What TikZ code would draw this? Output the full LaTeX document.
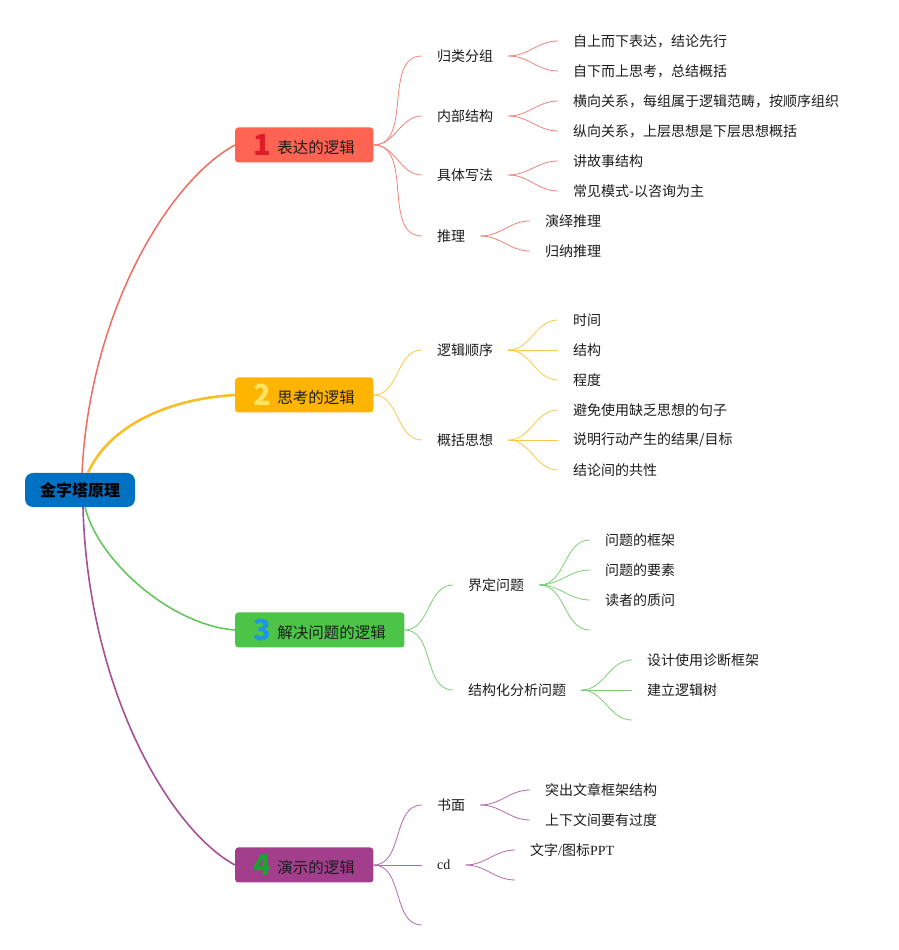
\documentclass[tikz,border=0pt]{standalone}
\usepackage{fontspec}
\setmainfont{Noto Sans CJK SC}
\newfontfamily\lser{Liberation Serif}
\usepackage{xcolor}
\usepackage{tikz}

\definecolor{rootblue}{RGB}{0,112,192}
\definecolor{redbox}{RGB}{255,99,82}
\definecolor{redline}{RGB}{238,108,96}
\definecolor{rednum}{RGB}{222,28,40}
\definecolor{orgbox}{RGB}{255,180,0}
\definecolor{orgline}{RGB}{248,190,40}
\definecolor{orgnum}{RGB}{255,228,100}
\definecolor{grnbox}{RGB}{76,196,72}
\definecolor{grnline}{RGB}{100,198,92}
\definecolor{grnnum}{RGB}{30,150,225}
\definecolor{purbox}{RGB}{162,62,140}
\definecolor{purline}{RGB}{166,80,152}
\definecolor{purnum}{RGB}{30,160,50}
\definecolor{txt}{RGB}{28,28,28}

\newcommand{\topicnum}[2]{\raisebox{-2pt}{\color{#1}\fontsize{29}{29}\selectfont\bfseries #2}\hspace{6pt}}

\begin{document}
\begin{tikzpicture}[x=1pt,y=1pt,
    topic/.style={rounded corners=3pt,inner xsep=18.5pt,inner ysep=0pt,minimum height=35pt,anchor=west,text=txt,font=\fontsize{15.5}{18}\selectfont},
    sub/.style={inner xsep=15pt,inner ysep=2pt,anchor=west,text=txt,font=\fontsize{14}{16}\selectfont},
    l1/.style={draw=redline!85,line width=0.8pt},
    l2/.style={draw=orgline!85,line width=0.8pt},
    l3/.style={draw=grnline!85,line width=0.8pt},
    l4/.style={draw=purline!85,line width=0.8pt}]
            \useasboundingbox (0,0) rectangle (899,950);
            % centre and the four topics
            \node [fill=rootblue,rounded corners=8pt,minimum width=110pt,minimum height=34pt,font=\fontsize{16}{18}\selectfont\bfseries] (root) at (80,460) {金字塔原理};
            \node [topic,fill=redbox] (b1) at (235,805) {\topicnum{rednum}{1}表达的逻辑};
            \node [topic,fill=orgbox] (b2) at (235,555) {\topicnum{orgnum}{2}思考的逻辑};
            \node [topic,fill=grnbox] (b3) at (235,320) {\topicnum{grnnum}{3}解决问题的逻辑};
            \node [topic,fill=purbox] (b4) at (235,85) {\topicnum{purnum}{4}演示的逻辑};
            \draw [redline,line width=1.5pt] ([xshift=2pt]root.north) .. controls +(8,163) and +(-65,-35) .. (b1.west);
            \draw [orgline,line width=2.6pt] ([xshift=8pt]root.north) .. controls +(20,45) and +(-70,-4) .. (b2.west);
            \draw [grnline,line width=1.6pt] ([xshift=5pt]root.south) .. controls +(13,-53) and +(-65,5) .. (b3.west);
            \draw [purline,line width=1.6pt] ([xshift=3pt]root.south) .. controls +(5,-183) and +(-65,35) .. (b4.west);

            % 1
            \node [sub] (g1) at (422,894) {归类分组};
            \node [sub] (g2) at (422,834) {内部结构};
            \node [sub] (g3) at (422,775) {具体写法};
            \node [sub] (g4) at (422,714) {推理};
            \node [sub] (g1a) at (558,909) {自上而下表达，结论先行};
            \node [sub] (g1b) at (558,879) {自下而上思考，总结概括};
            \node [sub] (g2a) at (558,849) {横向关系，每组属于逻辑范畴，按顺序组织};
            \node [sub] (g2b) at (558,819) {纵向关系，上层思想是下层思想概括};
            \node [sub] (g3a) at (558,789) {讲故事结构};
            \node [sub] (g3b) at (558,759) {常见模式-以咨询为主};
            \node [sub] (g4a) at (530,729) {演绎推理};
            \node [sub] (g4b) at (530,699) {归纳推理};
            \draw [l1] (b1.east) to[out=0,in=180] (g1.west);
            \draw [l1] (b1.east) to[out=0,in=180] (g2.west);
            \draw [l1] (b1.east) to[out=0,in=180] (g3.west);
            \draw [l1] (b1.east) to[out=0,in=180] (g4.west);
            \draw [l1] (g1.east) to[out=0,in=180] (g1a.west);
            \draw [l1] (g1.east) to[out=0,in=180] (g1b.west);
            \draw [l1] (g2.east) to[out=0,in=180] (g2a.west);
            \draw [l1] (g2.east) to[out=0,in=180] (g2b.west);
            \draw [l1] (g3.east) to[out=0,in=180] (g3a.west);
            \draw [l1] (g3.east) to[out=0,in=180] (g3b.west);
            \draw [l1] (g4.east) to[out=0,in=180] (g4a.west);
            \draw [l1] (g4.east) to[out=0,in=180] (g4b.west);

            % 2
            \node [sub] (s1) at (422,600) {逻辑顺序};
            \node [sub] (s2) at (422,510) {概括思想};
            \node [sub] (s1a) at (558,630) {时间};
            \node [sub] (s1b) at (558,600) {结构};
            \node [sub] (s1c) at (558,570) {程度};
            \node [sub] (s2a) at (558,540) {避免使用缺乏思想的句子};
            \node [sub] (s2b) at (558,510) {说明行动产生的结果/目标};
            \node [sub] (s2c) at (558,480) {结论间的共性};
            \draw [l2] (b2.east) to[out=0,in=180] (s1.west);
            \draw [l2] (b2.east) to[out=0,in=180] (s2.west);
            \draw [l2] (s1.east) to[out=0,in=180] (s1a.west);
            \draw [l2] (s1.east) -- (s1b.west);
            \draw [l2] (s1.east) to[out=0,in=180] (s1c.west);
            \draw [l2] (s2.east) to[out=0,in=180] (s2a.west);
            \draw [l2] (s2.east) -- (s2b.west);
            \draw [l2] (s2.east) to[out=0,in=180] (s2c.west);

            % 3
            \node [sub] (j1) at (453,365) {界定问题};
            \node [sub] (j2) at (453,260) {结构化分析问题};
            \node [sub] (j1a) at (590,410) {问题的框架};
            \node [sub] (j1b) at (590,380) {问题的要素};
            \node [sub] (j1c) at (590,350) {读者的质问};
            \coordinate (j1d) at (590,320);
            \node [sub] (j2a) at (632,290) {设计使用诊断框架};
            \node [sub] (j2b) at (632,260) {建立逻辑树};
            \coordinate (j2c) at (632,230);
            \draw [l3] (b3.east) to[out=0,in=180] (j1.west);
            \draw [l3] (b3.east) to[out=0,in=180] (j2.west);
            \draw [l3] (j1.east) to[out=0,in=180] (j1a.west);
            \draw [l3] (j1.east) to[out=0,in=180] (j1b.west);
            \draw [l3] (j1.east) to[out=0,in=180] (j1c.west);
            \draw [l3] (j1.east) to[out=0,in=180] (j1d);
            \draw [l3] (j2.east) to[out=0,in=180] (j2a.west);
            \draw [l3] (j2.east) -- (j2b.west);
            \draw [l3] (j2.east) to[out=0,in=180] (j2c);

            % 4
            \node [sub] (y1) at (422,145) {书面};
            \node [sub] (y2) at (422,85) {\lser cd};
            \coordinate (y3) at (422,25);
            \node [sub] (y1a) at (530,160) {突出文章框架结构};
            \node [sub] (y1b) at (530,130) {上下文间要有过度};
            \node [sub] (y2a) at (515,100) {文字{\lser /}图标{\lser PPT}};
            \coordinate (y2b) at (515,70);
            \draw [l4] (b4.east) to[out=0,in=180] (y1.west);
            \draw [l4] (b4.east) -- (y2.west);
            \draw [l4] (b4.east) to[out=0,in=180] (y3);
            \draw [l4] (y1.east) to[out=0,in=180] (y1a.west);
            \draw [l4] (y1.east) to[out=0,in=180] (y1b.west);
            \draw [l4] (y2.east) to[out=0,in=180] (y2a.west);
            \draw [l4] (y2.east) to[out=0,in=180] (y2b);
        \end{tikzpicture}
\end{document}
